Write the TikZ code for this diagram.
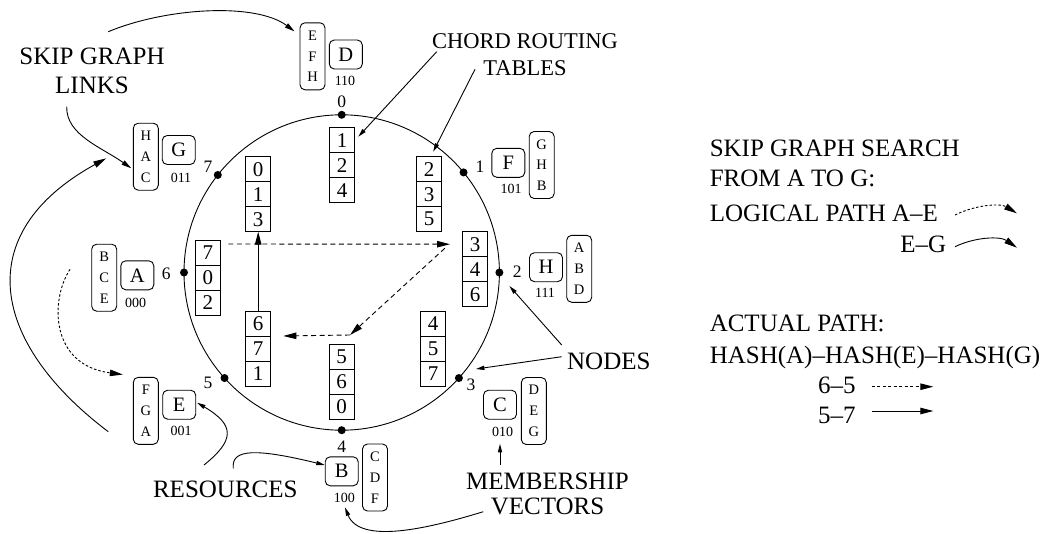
\documentclass[tikz,border=0pt]{standalone}
\usepackage{fontspec}
\setmainfont{Liberation Serif}
\usetikzlibrary{arrows.meta,calc}

% three stacked cells of a Chord finger table; #2,#3 = centre of the top cell
\newcommand\chordtable[6]{%
  \node[cell] (#1-1) at (#2,#3) {#4};
  \node[cell,anchor=north] (#1-2) at (#1-1.south) {#5};
  \node[cell,anchor=north] (#1-3) at (#1-2.south) {#6};
}

\begin{document}
\begin{tikzpicture}[x=1pt,y=-1pt,line width=0.9pt,
  cell/.style={draw,minimum width=25pt,minimum height=25pt,inner sep=0pt,outer sep=0pt,font=\fontsize{21}{21}\selectfont},
  res/.style={draw,rounded corners=5pt,minimum width=33pt,minimum height=29pt,inner sep=0pt,font=\fontsize{20.5}{20.5}\selectfont},
  links/.style={draw,rounded corners=5pt,minimum width=25pt,minimum height=67pt,inner sep=0pt,align=center,font=\fontsize{14.5}{20.7}\selectfont},
  vec/.style={inner sep=0pt,font=\fontsize{14}{14}\selectfont},
  ringdot/.style={circle,fill,inner sep=0pt,minimum size=8pt},
  ringlbl/.style={inner sep=0pt,font=\fontsize{17.5}{17.5}\selectfont},
  biglbl/.style={inner sep=0pt,align=center},
  legend/.style={inner sep=0pt,anchor=base west,font=\fontsize{25}{25}\selectfont},
  tipL/.style={-{Triangle[length=13pt,width=6.5pt]}},
  tipM/.style={-{Triangle[length=10pt,width=5pt]}},
  tipS/.style={-{Triangle[length=8.5pt,width=4.2pt]}},
  dashedline/.style={dash pattern=on 5pt off 3.5pt},
  dottedline/.style={dash pattern=on 2.5pt off 2pt},
]
\useasboundingbox (0,0) rectangle (1047,533);

% ---- Chord ring with its eight positions ----
\node[draw,circle,inner sep=0pt,minimum size=315.4pt] (ring) at (341.7,272.5) {};
\node[ringdot] (p0) at ($(ring.center)+(-90:157.7)$) {};
\node[ringdot] (p1) at ($(ring.center)+(-39.4:157.7)$) {};
\node[ringdot] (p2) at ($(ring.center)+(0:157.7)$) {};
\node[ringdot] (p3) at ($(ring.center)+(42:157.7)$) {};
\node[ringdot] (p4) at ($(ring.center)+(90:157.7)$) {};
\node[ringdot] (p5) at ($(ring.center)+(138:157.7)$) {};
\node[ringdot] (p6) at ($(ring.center)+(180:157.7)$) {};
\node[ringdot] (p7) at ($(ring.center)+(-141.8:157.7)$) {};

\node[ringlbl] (n0) at (341.7,102) {0};
\node[ringlbl] (n1) at (480,166.7) {1};
\node[ringlbl] (n2) at (517.3,271.7) {2};
\node[ringlbl] (n3) at (471,384.3) {3};
\node[ringlbl] (n4) at (341.7,446.7) {4};
\node[ringlbl] (n5) at (208,383) {5};
\node[ringlbl] (n6) at (166.3,274.2) {6};
\node[ringlbl] (n7) at (208,166.7) {7};

% ---- routing tables ----
\chordtable{t0}{342}{140.2}{1}{2}{4}
\chordtable{t1}{429.2}{169.2}{2}{3}{5}
\chordtable{t2}{475}{244.2}{3}{4}{6}
\chordtable{t3}{433.2}{323.5}{4}{5}{7}
\chordtable{t4}{341.7}{356.8}{5}{6}{0}
\chordtable{t5}{258.2}{323.5}{6}{7}{1}
\chordtable{t6}{207.8}{252.5}{7}{0}{2}
\chordtable{t7}{258.2}{169.2}{0}{1}{3}

% ---- resources, membership vectors and skip graph neighbour lists ----
\node[res] (rD) at (345.8,54.5) {D};
\node[vec] (vD) at (345,81.2) {110};
\node[links] (lD) at (312.5,56.3) {E\\F\\H};

\node[res] (rG) at (178.7,150) {G};
\node[vec] (vG) at (181,177.7) {011};
\node[links] (lG) at (145.8,156.7) {H\\A\\C};

\node[res] (rA) at (137.3,275.3) {A};
\node[vec] (vA) at (135.7,302.7) {000};
\node[links] (lA) at (104.2,277.7) {B\\C\\E};

\node[res] (rE) at (179.2,404.7) {E};
\node[vec] (vE) at (181,431) {001};
\node[links] (lE) at (145.8,410.8) {F\\G\\A};

\node[res] (rB) at (341.7,471.3) {B};
\node[vec] (vB) at (344.3,498.3) {100};
\node[links] (lB) at (375,477.5) {C\\D\\F};

\node[res] (rC) at (500,404.7) {C};
\node[vec] (vC) at (502.7,431.7) {010};
\node[links] (lC) at (533.8,411) {D\\E\\G};

\node[res] (rF) at (508.3,162.8) {F};
\node[vec] (vF) at (511,189.3) {101};
\node[links] (lF) at (541.7,165) {G\\H\\B};

\node[res] (rH) at (546,267.2) {H};
\node[vec] (vH) at (545,293.3) {111};
\node[links] (lH) at (579.2,268.8) {A\\B\\D};

% ---- lookup through the finger tables ----
\draw[tipL] (t5-1.north) -- (t7-3.south);
\coordinate (hs) at (228.3,244);
\draw[tipL,dashedline] (hs) -- ([xshift=-12.5pt]t2-1.west);
\coordinate (turn) at (350,335);
\draw[tipL,dashedline] ([shift={(-17.7,-8.4)}]t2-1.south west) -- (turn);
\draw[tipL,dashedline] (turn) -- ([xshift=12.6pt]t5-1.south east);

% ---- skip graph search A -> E -> G ----
\coordinate (aeS) at (70,269.3);
\draw[tipL,dottedline] (aeS) .. controls (50,300) and (50,365) .. ([shift={(-10,-2.3)}]lE.north west);
\coordinate (egS) at (108.3,431.7);
\draw[tipL] (egS) .. controls (-9,343) and (-30.7,233.7) .. ([shift={(-26.6,1.6)}]lG.west);

% ---- annotations ----
\node[biglbl,font=\fontsize{25}{28.3}\selectfont] (sglinks) at (92,70.9) {SKIP GRAPH\\LINKS};
\coordinate (sgA) at (108.3,31.7);
\coordinate (sgB) at (66.7,106.7);
\draw[tipM] (sgA) .. controls (165,8) and (255,2) .. ([shift={(-5,9)}]lD.north west);
\draw[tipM] (sgB) .. controls (66,135) and (101.7,147.3) .. ([shift={(-1.6,11.6)}]lG.west);

\node[biglbl,font=\fontsize{22.5}{27.7}\selectfont] (chord) at (525,54.7) {CHORD ROUTING\\TABLES};
\coordinate (chA) at (436.7,51.7);
\coordinate (chB) at (475,69.3);
\draw[tipS] (chA) -- ([shift={(3.8,9)}]t0-1.north east);
\draw[tipS] (chB) -- ([shift={(4,-5)}]t1-1.north);

\node[inner sep=0pt,anchor=base west,font=\fontsize{25}{25}\selectfont] (nodes) at (566.7,369.3) {NODES};
\coordinate (ndA) at (561.7,345);
\coordinate (ndB) at (561.7,356.7);
\draw[tipS] (ndA) -- ([shift={(10,13.5)}]p2.center);
\draw[tipS] (ndB) -- ([shift={(17,-9)}]p3.center);

\node[inner sep=0pt,anchor=base,font=\fontsize{25}{25}\selectfont] (resources) at (225.3,497.7) {RESOURCES};
\coordinate (rsA) at (204,465);
\coordinate (rsB) at (233.3,468.3);
\draw[tipS] (rsA) .. controls (235,440) and (235,425) .. ([shift={(1,-2)}]rE.east);
\draw[tipS] (rsB) .. controls (231,449) and (255,448) .. ([shift={(0,-6.3)}]rB.west);

\node[biglbl,font=\fontsize{25}{25}\selectfont] (members) at (547.5,494.3) {MEMBERSHIP\\VECTORS};
\coordinate (msA) at (500,465);
\coordinate (msB) at (483.3,511.7);
\draw[tipS] (msA) -- ([shift={(-2.7,7)}]vC.south);
\draw[tipS] (msB) .. controls (430,528) and (360,545) .. ([shift={(0.7,3.9)}]vB.south);

% ---- legend ----
\node[legend] (lgA) at (709.3,156.7) {SKIP GRAPH SEARCH};
\node[legend] (lgB) at (709.3,186) {FROM A TO G:};
\node[legend] (lgC) at (709.3,221.7) {LOGICAL PATH A--E};
\node[legend,anchor=base east] (lgD) at (946.7,252.7) {E--G};
\coordinate (lg1s) at (955,215);
\coordinate (lg1e) at (1017,213.3);
\coordinate (lg2s) at (955,246.7);
\coordinate (lg2e) at (1017,247.7);
\draw[tipL,dottedline] (lg1s) .. controls (975,205) and (1000,203) .. (lg1e);
\draw[tipL] (lg2s) .. controls (975,237) and (1000,236) .. (lg2e);

\node[legend] (lgE) at (709.3,331.7) {ACTUAL PATH:};
\node[legend] (lgF) at (709.3,363.3) {HASH(A)--HASH(E)--HASH(G)};
\node[legend] (lgG) at (817.7,393.3) {6--5};
\node[legend] (lgH) at (817.7,423.3) {5--7};
\coordinate (lg3s) at (871.7,386.7);
\coordinate (lg3e) at (933.3,386.7);
\coordinate (lg4s) at (871.7,411);
\coordinate (lg4e) at (933.3,411);
\draw[tipL,dash pattern=on 3pt off 2.5pt] (lg3s) -- (lg3e);
\draw[tipL] (lg4s) -- (lg4e);
\end{tikzpicture}
\end{document}
